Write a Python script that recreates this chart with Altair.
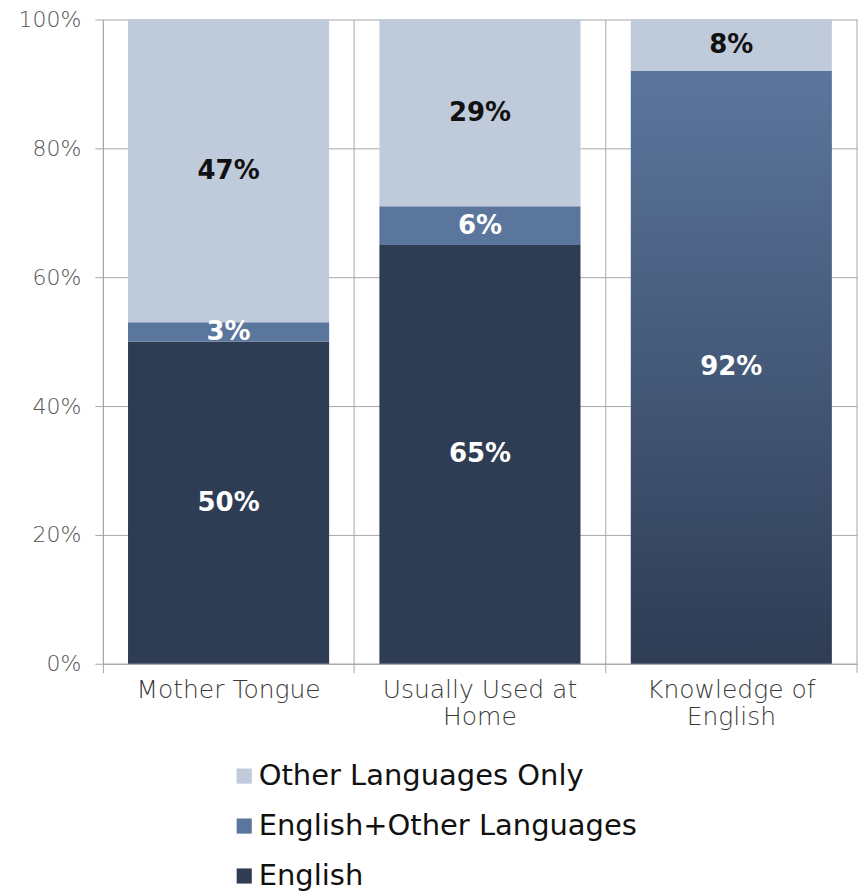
import altair as alt
import pandas as pd

categories = ["Mother Tongue", "Usually Used at Home", "Knowledge of English"]
series = ["Other Languages Only", "English+Other Languages", "English"]
english = [50, 65, 92]
english_other = [3, 6, 0]
other_only = [47, 29, 8]
colors = ["#bfcadb", "#5b769d", "#2e3c54"]

rows = []
for i, c in enumerate(categories):
    for s, vals, order in [("English", english, 0),
                           ("English+Other Languages", english_other, 1),
                           ("Other Languages Only", other_only, 2)]:
        rows.append({"Category": c, "Series": s, "Value": vals[i], "Order": order})
df = pd.DataFrame(rows)

W, H = 755, 645
GRID = "#a6a6a6"
FONT = "DejaVu Sans"

gradient = {
    "gradient": "linear", "x1": 0, "x2": 0, "y1": 0, "y2": 1,
    "stops": [{"offset": 0, "color": "#5b769d"}, {"offset": 1, "color": "#2e3c54"}],
}

x_enc = alt.X(
    "Category:N", sort=categories, title=None,
    scale=alt.Scale(paddingInner=0, paddingOuter=0),
    axis=alt.Axis(
        bandPosition=0, grid=True, gridColor=GRID, ticks=True, tickSize=9,
        tickColor=GRID, domainColor=GRID, labelAngle=0, labelFont=FONT,
        labelFontWeight=200, labelFontSize=25, labelColor="#3a3a3a",
        labelPadding=5, labelLineHeight=27, labelLimit=0,
        labelExpr="datum.label == 'Usually Used at Home' ? ['Usually Used at', 'Home'] : "
                  "(datum.label == 'Knowledge of English' ? ['Knowledge of', 'English'] : datum.label)",
    ),
)

bars = alt.Chart(df).mark_bar(width=alt.RelativeBandSize(0.8)).encode(
    x=x_enc,
    y=alt.Y(
        "Value:Q", stack="zero", title=None,
        scale=alt.Scale(domain=[0, 100], nice=False),
        axis=alt.Axis(
            values=[0, 20, 40, 60, 80, 100], labelExpr="datum.value + '%'",
            grid=True, gridColor=GRID, tickColor=GRID, tickSize=8,
            domainColor=GRID, labelFont=FONT, labelFontWeight=200,
            labelFontSize=22, labelColor="#555555", labelPadding=14,
        ),
    ),
    color=alt.condition(
        "datum.Category == 'Knowledge of English' && datum.Series == 'English'",
        alt.value(gradient),
        alt.Color(
            "Series:N",
            scale=alt.Scale(domain=series, range=colors),
            legend=alt.Legend(
                title=None, orient="none", legendX=127, legendY=743,
                symbolType="square", symbolSize=230, symbolStrokeWidth=0,
                labelFont=FONT, labelFontSize=29, labelColor="#111111",
                labelLimit=0, rowPadding=20, labelOffset=0,
            ),
        ),
    ),
    order=alt.Order("Order:Q", sort="ascending"),
)

labels = alt.Chart(df).transform_filter("datum.Value > 0").transform_stack(
    stack="Value", groupby=["Category"], as_=["y0", "y1"],
    sort=[alt.SortField("Order", order="ascending")],
).transform_calculate(
    mid="(datum.y0 + datum.y1) / 2", label="datum.Value + '%'"
).mark_text(font=FONT, fontWeight="bold", fontSize=26, baseline="middle").encode(
    x=alt.X("Category:N", sort=categories),
    y=alt.Y("mid:Q"),
    text="label:N",
    color=alt.condition("datum.Series == 'Other Languages Only'",
                        alt.value("#111111"), alt.value("white")),
)

edge = alt.Chart(pd.DataFrame({"Category": [categories[-1]]})).mark_rule(color=GRID).encode(
    x=alt.X("Category:N", sort=categories, bandPosition=1),
    y=alt.value(0), y2=alt.value(H + 9),
)

chart = alt.layer(bars, labels, edge).properties(
    width=W, height=H,
    padding={"left": 10, "top": 0, "right": 0, "bottom": 0},
).configure_view(stroke=None)

chart.save("out.html", embed_options={"renderer": "svg", "actions": False})
